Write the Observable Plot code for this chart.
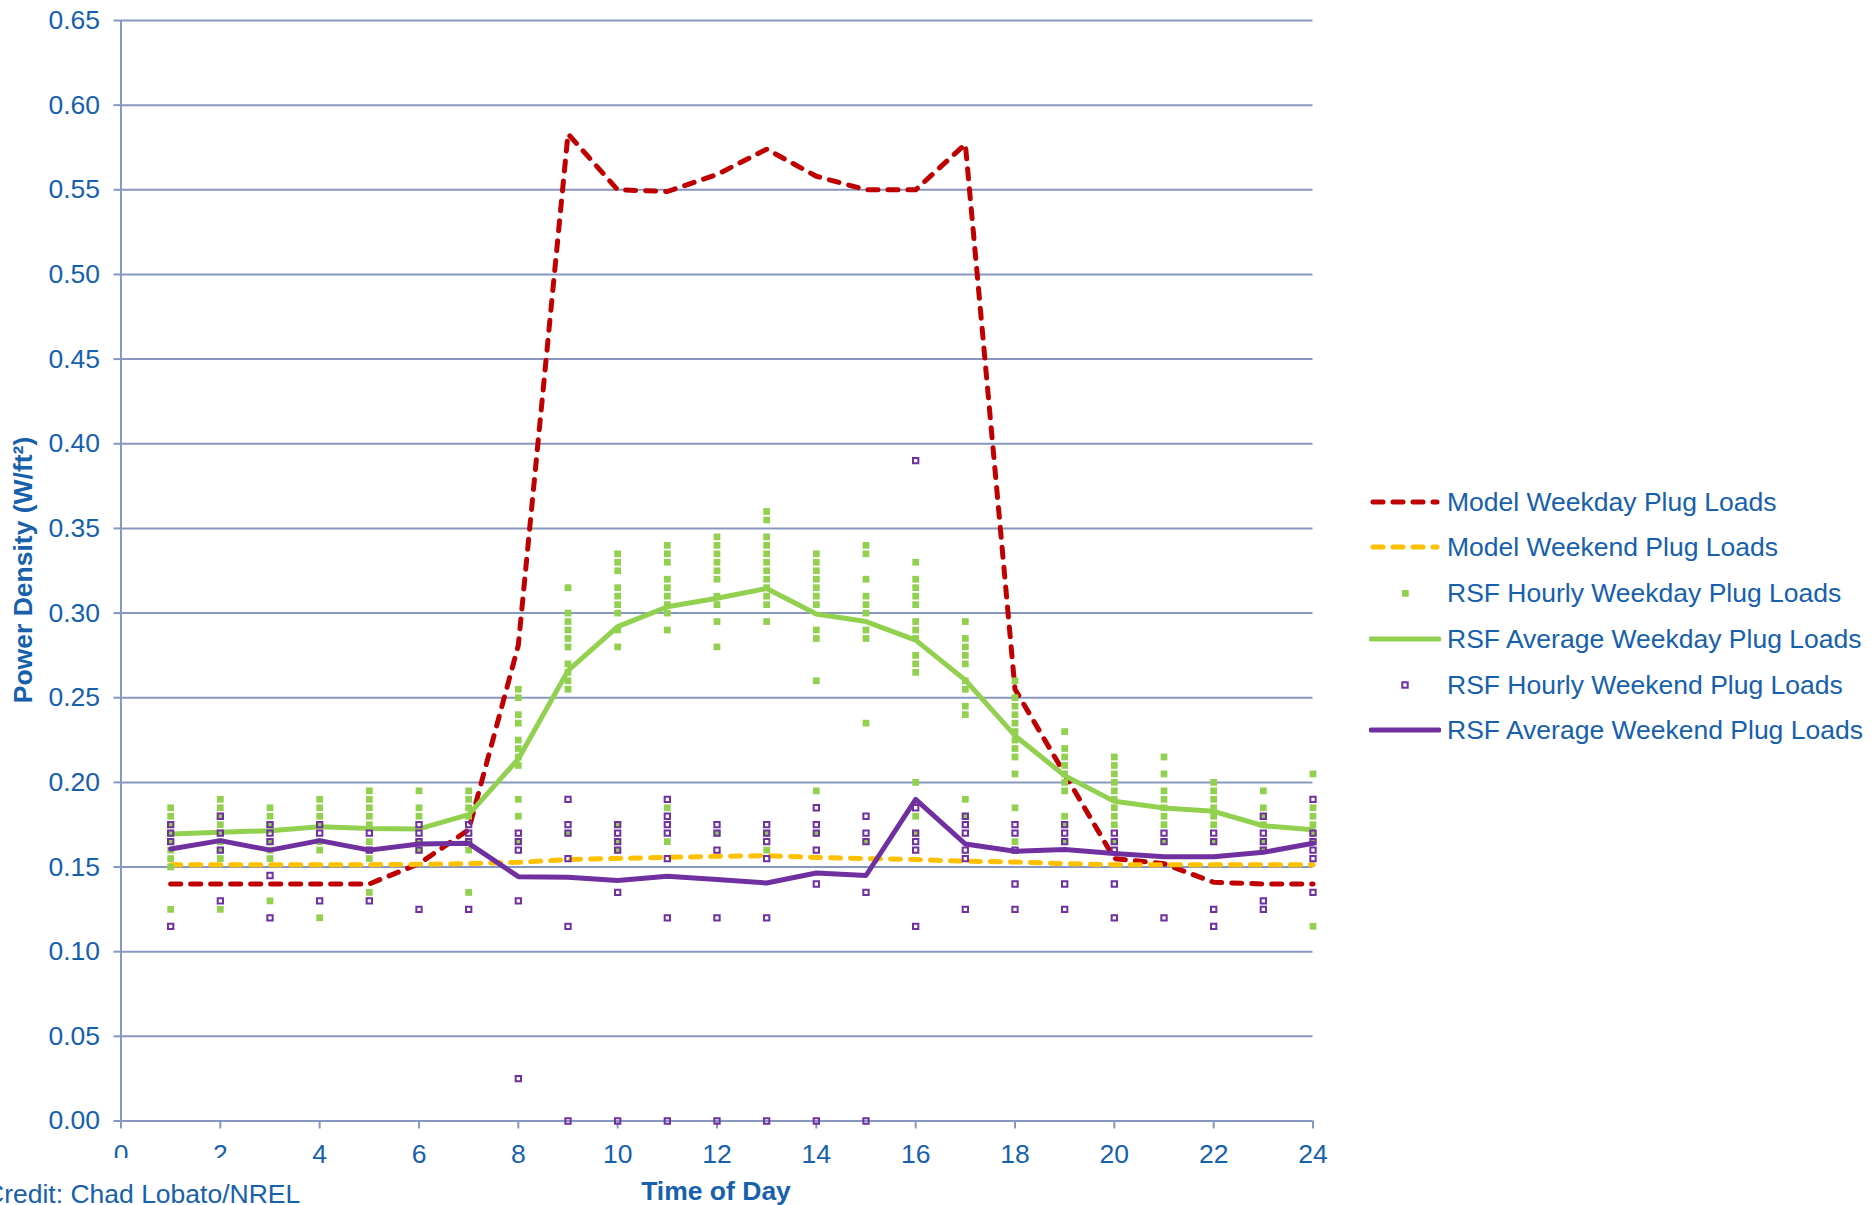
<!DOCTYPE html>
<html>
<head>
<meta charset="utf-8">
<script src="https://cdn.jsdelivr.net/npm/d3@7"></script>
<script src="https://cdn.jsdelivr.net/npm/@observablehq/plot@0.6"></script>
<style>
  html, body { margin: 0; padding: 0; background: #fff; }
  #wrap { position: relative; width: 1871px; height: 1205px; overflow: hidden; font-family: "Liberation Sans", Arial, sans-serif; color: #1660AC; }
  #chart { position: absolute; left: 0; top: 0; }
  .ytitle { position: absolute; left: 23px; top: 570px; transform: translate(-50%, -50%) rotate(-90deg); font-weight: bold; font-size: 26.5px; white-space: nowrap; }
  .xtitle { position: absolute; left: 716px; top: 1191px; transform: translate(-50%, -50%); font-weight: bold; font-size: 26.5px; white-space: nowrap; }
  .credit { position: absolute; left: -20px; top: 1158px; width: 322px; height: 60px; background: #fff; }
  .credit span { position: absolute; left: 5px; top: 21px; font-size: 26.5px; white-space: nowrap; }
  .lg { position: absolute; left: 1369px; height: 40px; display: flex; align-items: center; font-size: 26.5px; white-space: nowrap; transform: translateY(-50%); }
  .lg svg { width: 72px; height: 20px; margin-right: 6px; flex: none; }
</style>
</head>
<body>
<div id="wrap">
  <div id="chart"></div>
  <div class="ytitle">Power Density (W/ft²)</div>
  <div class="xtitle">Time of Day</div>
  <div class="credit"><span>Credit: Chad Lobato/NREL</span></div>
  <div id="legend"></div>
</div>
<script>
// ---------- data ----------
const hours = [1,2,3,4,5,6,7,8,9,10,11,12,13,14,15,16,17,18,19,20,21,22,23,24];
const xTicks = [0,2,4,6,8,10,12,14,16,18,20,22,24];
const yTicks = [0,0.05,0.10,0.15,0.20,0.25,0.30,0.35,0.40,0.45,0.50,0.55,0.60,0.65];

const modelWeekday = [0.14,0.14,0.14,0.14,0.14,0.152,0.172,0.281,0.583,0.55,0.549,0.559,0.574,0.558,0.55,0.55,0.577,0.255,0.205,0.155,0.152,0.141,0.14,0.14];
const modelWeekend = [0.1514,0.1514,0.1514,0.1514,0.1514,0.1516,0.152,0.1528,0.1544,0.1551,0.1557,0.1563,0.1567,0.1557,0.155,0.1544,0.1534,0.153,0.152,0.1514,0.1514,0.1514,0.1514,0.1514];
const rsfAvgWeekday = [0.1695,0.1705,0.1715,0.1738,0.1727,0.1725,0.181,0.2138,0.266,0.292,0.3037,0.3088,0.3145,0.2994,0.295,0.284,0.2604,0.2276,0.204,0.1888,0.1849,0.1829,0.1744,0.172];
const rsfAvgWeekend = [0.1607,0.1656,0.160,0.1656,0.160,0.1636,0.164,0.1443,0.1439,0.142,0.1445,0.1426,0.1406,0.1465,0.145,0.190,0.1636,0.1593,0.1603,0.158,0.1561,0.1561,0.1587,0.164];

const rsfHourlyWeekday = [
  [0.185,0.18,0.175,0.17,0.165,0.16,0.155,0.15,0.125],
  [0.19,0.185,0.18,0.175,0.17,0.165,0.16,0.155,0.125],
  [0.185,0.18,0.175,0.165,0.16,0.155,0.13],
  [0.19,0.185,0.18,0.175,0.165,0.16,0.12],
  [0.195,0.19,0.185,0.18,0.175,0.165,0.16,0.155,0.135],
  [0.195,0.185,0.18,0.165,0.16],
  [0.195,0.19,0.185,0.18,0.165,0.16,0.135],
  [0.255,0.25,0.24,0.235,0.225,0.22,0.215,0.21,0.19,0.18,0.165],
  [0.315,0.30,0.295,0.29,0.285,0.28,0.27,0.265,0.26,0.255,0.17],
  [0.335,0.33,0.325,0.315,0.31,0.305,0.30,0.29,0.28,0.175,0.165,0.16],
  [0.34,0.335,0.33,0.32,0.315,0.31,0.305,0.30,0.29,0.185,0.165],
  [0.345,0.34,0.335,0.33,0.325,0.32,0.31,0.305,0.295,0.28,0.17],
  [0.36,0.355,0.345,0.34,0.335,0.33,0.325,0.32,0.315,0.31,0.305,0.295,0.17,0.16],
  [0.335,0.33,0.325,0.32,0.315,0.31,0.305,0.29,0.285,0.26,0.195,0.17],
  [0.34,0.335,0.32,0.31,0.305,0.30,0.29,0.285,0.235,0.165],
  [0.33,0.32,0.315,0.31,0.305,0.295,0.29,0.285,0.275,0.27,0.265,0.20,0.18,0.17],
  [0.295,0.285,0.28,0.275,0.27,0.26,0.255,0.245,0.24,0.19,0.18],
  [0.26,0.25,0.245,0.24,0.235,0.23,0.225,0.22,0.215,0.205,0.185,0.165],
  [0.23,0.22,0.215,0.21,0.205,0.20,0.195,0.18,0.175,0.165],
  [0.215,0.21,0.205,0.20,0.195,0.19,0.185,0.18,0.175,0.165],
  [0.215,0.205,0.195,0.19,0.185,0.18,0.175,0.165],
  [0.20,0.195,0.19,0.185,0.18,0.175,0.165],
  [0.195,0.185,0.18,0.175,0.165,0.16],
  [0.205,0.185,0.18,0.175,0.17,0.165,0.115]
];
const rsfHourlyWeekend = [
  [0.175,0.17,0.165,0.115],
  [0.18,0.17,0.16,0.13],
  [0.175,0.17,0.165,0.145,0.12],
  [0.175,0.17,0.13],
  [0.17,0.16,0.13],
  [0.175,0.17,0.165,0.16,0.125],
  [0.175,0.17,0.165,0.125],
  [0.17,0.165,0.16,0.13,0.025],
  [0.19,0.175,0.17,0.155,0.115,0],
  [0.175,0.17,0.165,0.16,0.135,0],
  [0.19,0.18,0.175,0.17,0.155,0.12,0],
  [0.175,0.17,0.16,0.12,0],
  [0.175,0.17,0.165,0.155,0.12,0],
  [0.185,0.175,0.17,0.16,0.14,0],
  [0.18,0.17,0.165,0.135,0],
  [0.39,0.185,0.17,0.165,0.16,0.115],
  [0.18,0.175,0.17,0.16,0.155,0.125],
  [0.175,0.17,0.16,0.14,0.125],
  [0.175,0.17,0.165,0.14,0.125],
  [0.17,0.165,0.16,0.14,0.12],
  [0.17,0.165,0.12],
  [0.17,0.165,0.125,0.115],
  [0.18,0.17,0.165,0.16,0.13,0.125],
  [0.19,0.17,0.165,0.16,0.155,0.135]
];

const seriesNames = ["Model Weekday Plug Loads","Model Weekend Plug Loads","RSF Hourly Weekday Plug Loads","RSF Average Weekday Plug Loads","RSF Hourly Weekend Plug Loads","RSF Average Weekend Plug Loads"];

// ---------- styles ----------
const textColor = "#1660AC";
const gridColor = "#8797BF";
const red = "#C00000", yellow = "#FFC000", green = "#92D050", purple = "#7030A0";

// ---------- tables ----------
const lineTable = arr => hours.map((h, i) => ({h, v: arr[i]}));
const dotTable = arr => arr.flatMap((vals, i) => vals.map(v => ({h: hours[i], v})));

const chart = Plot.plot({
  width: 1871,
  height: 1205,
  marginLeft: 120.5,
  marginRight: 558.5,
  marginTop: 20,
  marginBottom: 84.5,
  style: {fontFamily: '"Liberation Sans", Arial, sans-serif', background: "transparent", color: textColor, overflow: "visible"},
  x: {domain: [0, 24]},
  y: {domain: [0, 0.65]},
  marks: [
    Plot.gridY(yTicks, {stroke: gridColor, strokeOpacity: 1, strokeWidth: 2}),
    Plot.ruleX([0], {stroke: gridColor, strokeWidth: 2}),
    Plot.axisY(yTicks, {tickSize: 7, tickPadding: 14, stroke: gridColor, strokeWidth: 2, fill: textColor, fontSize: 26.5, tickFormat: d3.format(".2f"), label: null}),
    Plot.axisX(xTicks, {tickSize: 8, tickPadding: 15, stroke: gridColor, strokeWidth: 2, fill: textColor, fontSize: 26.5, tickFormat: d => String(d), label: null}),
    Plot.line(lineTable(modelWeekday), {x: "h", y: "v", stroke: red, strokeWidth: 5, strokeDasharray: "10,10", strokeLinecap: "round"}),
    Plot.line(lineTable(modelWeekend), {x: "h", y: "v", stroke: yellow, strokeWidth: 5, strokeDasharray: "10,10", strokeLinecap: "round"}),
    Plot.dot(dotTable(rsfHourlyWeekday), {x: "h", y: "v", symbol: "square", r: 3.8, fill: green, stroke: "none"}),
    Plot.line(lineTable(rsfAvgWeekday), {x: "h", y: "v", stroke: green, strokeWidth: 5}),
    Plot.dot(dotTable(rsfHourlyWeekend), {x: "h", y: "v", symbol: "square", r: 3.0, fill: "none", stroke: purple, strokeWidth: 2}),
    Plot.line(lineTable(rsfAvgWeekend), {x: "h", y: "v", stroke: purple, strokeWidth: 5})
  ]
});
document.getElementById("chart").appendChild(chart);

// ---------- legend ----------
const legendY = [502, 547, 593, 639, 685, 730];
const swatches = [
  `<line x1="4" y1="10" x2="68" y2="10" stroke="${red}" stroke-width="5" stroke-dasharray="10,10" stroke-linecap="round"/>`,
  `<line x1="4" y1="10" x2="68" y2="10" stroke="${yellow}" stroke-width="5" stroke-dasharray="10,10" stroke-linecap="round"/>`,
  `<rect x="33" y="7" width="6.7" height="6.7" fill="${green}"/>`,
  `<line x1="2" y1="10" x2="70" y2="10" stroke="${green}" stroke-width="5" stroke-linecap="round"/>`,
  `<rect x="33.3" y="7.3" width="5.4" height="5.4" fill="none" stroke="${purple}" stroke-width="2"/>`,
  `<line x1="2" y1="10" x2="70" y2="10" stroke="${purple}" stroke-width="5" stroke-linecap="round"/>`
];
const legend = document.getElementById("legend");
seriesNames.forEach((name, i) => {
  const row = document.createElement("div");
  row.className = "lg";
  row.style.top = legendY[i] + "px";
  row.innerHTML = `<svg viewBox="0 0 72 20">${swatches[i]}</svg><span>${name}</span>`;
  legend.appendChild(row);
});
</script>
</body>
</html>
